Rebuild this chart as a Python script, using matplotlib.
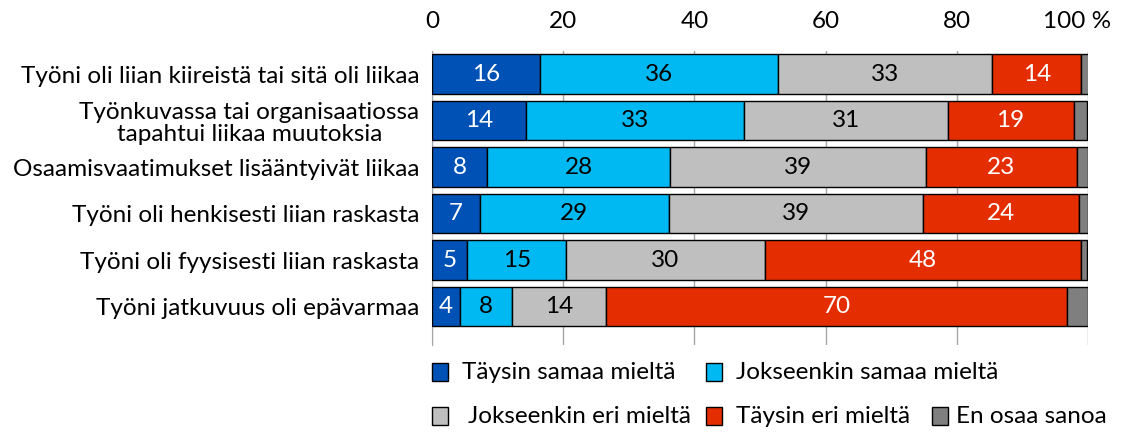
import matplotlib.pyplot as plt
from matplotlib.patches import Rectangle
from matplotlib.transforms import ScaledTranslation

plt.rcParams['font.family'] = ['Lato', 'DejaVu Sans']

categories = [
    "Työni oli liian kiireistä tai sitä oli liikaa",
    "Työnkuvassa tai organisaatiossa\ntapahtui liikaa muutoksia",
    "Osaamisvaatimukset lisääntyivät liikaa",
    "Työni oli henkisesti liian raskasta",
    "Työni oli fyysisesti liian raskasta",
    "Työni jatkuvuus oli epävarmaa",
]

# shares in %
taysin_samaa = [16.5, 14.4, 8.4, 7.3, 5.4, 4.3]
jokseenkin_samaa = [36.3, 33.1, 27.9, 28.8, 15.1, 7.9]
jokseenkin_eri = [32.6, 31.1, 39.0, 38.7, 30.2, 14.3]
taysin_eri = [13.6, 19.2, 23.0, 23.8, 48.3, 70.3]
en_osaa = [1.2, 2.1, 1.7, 1.4, 0.9, 3.2]

series = [taysin_samaa, jokseenkin_samaa, jokseenkin_eri, taysin_eri, en_osaa]
names = ["Täysin samaa mieltä", "Jokseenkin samaa mieltä",
         "Jokseenkin eri mieltä", "Täysin eri mieltä", "En osaa sanoa"]
colors = ["#0051B5", "#00B9F2", "#BFBFBF", "#E42D00", "#7F7F7F"]
text_colors = ["white", "black", "black", "white", None]

ticks = [0, 20, 40, 60, 80, 100]
tick_labels = ["0", "20", "40", "60", "80", "100 %"]

FS = 17.5

fig = plt.figure(figsize=(11.25, 4.36), dpi=100)
ax = fig.add_axes([432 / 1125, 1 - 345 / 436, 656 / 1125, (345 - 51) / 436])

y = list(range(len(categories)))
left = [0] * len(categories)
for vals, name, col, tcol in zip(series, names, colors, text_colors):
    bars = ax.barh(y, vals, left=left, height=0.85, color=col,
                   edgecolor="black", linewidth=1, label=name, zorder=3)
    if tcol:
        for b, v in zip(bars, vals):
            ax.text(b.get_x() + b.get_width() / 2, b.get_y() + b.get_height() / 2,
                    f"{round(v)}", ha="center", va="center", color=tcol,
                    fontsize=FS, zorder=4)
    left = [l + v for l, v in zip(left, vals)]

ax.set_xlim(0, 100)
ax.set_ylim(5.83, -0.5)
ax.set_yticks(y)
ax.set_yticklabels(categories, fontsize=FS, multialignment="center", linespacing=1.1)
ax.tick_params(axis="y", length=0, pad=9)
ax.xaxis.tick_top()
ax.set_xticks(ticks)
ax.set_xticklabels(tick_labels, fontsize=FS)
ax.tick_params(axis="x", length=0, pad=14)
lab = ax.get_xticklabels()[-1]
lab.set_transform(lab.get_transform() + ScaledTranslation(-10.5 / 100, 0, fig.dpi_scale_trans))
ax.grid(axis="x", color="#A6A6A6", linewidth=1, zorder=0)
for s in ["top", "right", "bottom"]:
    ax.spines[s].set_visible(False)
ax.spines["left"].set_color("#A6A6A6")

# legend, laid out like the original (2 + 3 entries)
legend_pos = [(432, 372, 462), (706, 372, 736),
              (432, 416, 468), (706, 416, 736), (932, 416, 956)]
for (sx, sy, tx), name, col in zip(legend_pos, names, colors):
    fig.patches.append(Rectangle((sx / 1125, 1 - (sy + 9) / 436), 16 / 1125, 18 / 436,
                                 transform=fig.transFigure, facecolor=col,
                                 edgecolor="black", linewidth=1))
    fig.text(tx / 1125, 1 - sy / 436, name, fontsize=FS, va="center", ha="left")

fig.savefig("out.png", dpi=100)
